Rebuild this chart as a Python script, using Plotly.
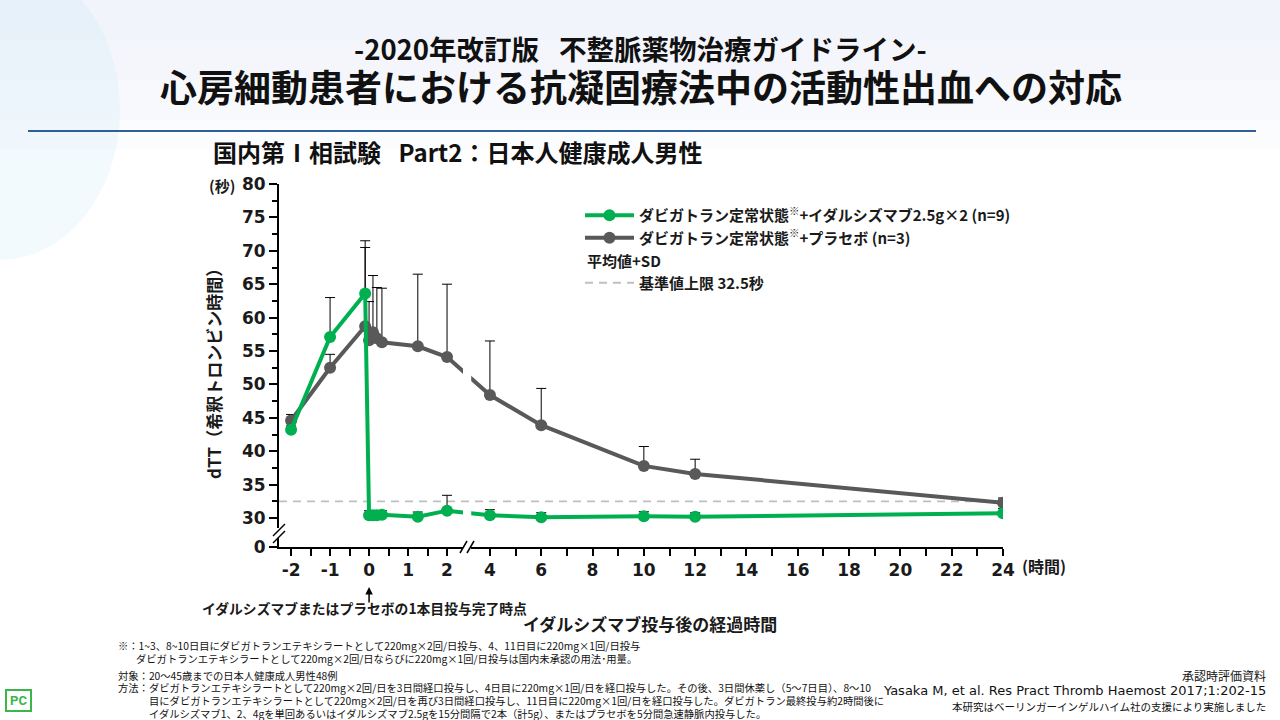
import plotly.graph_objects as go

# 測定時点（時間）: 0 = イダルシズマブ/プラセボ1本目投与完了時点
hours = [-2, -1, -0.1, 0, 0.1, 0.2, 0.33, 1.25, 2, 4, 6, 10, 12, 24]

# ダビガトラン定常状態 + イダルシズマブ 2.5g×2 (n=9)
idaru_mean = [43.2, 57.1, 63.6, 30.4, 30.4, 30.4, 30.5, 30.2, 31.1, 30.4, 30.1, 30.25, 30.2, 30.7]
idaru_sd = [0.6, 5.9, 6.9, 0.7, 0.7, 0.7, 0.6, 0.7, 2.3, 0.85, 0.7, 0.7, 0.6, 0.75]

# ダビガトラン定常状態 + プラセボ (n=3)
placebo_mean = [44.6, 52.5, 58.7, 56.6, 57.8, 56.9, 56.3, 55.7, 54.1, 48.4, 43.9, 37.8, 36.6, 32.3]
placebo_sd = [0.9, 2.0, 12.8, 5.8, 8.5, 7.6, 8.1, 10.8, 10.9, 8.1, 5.5, 2.9, 2.2, 0.7]

ref_limit = 32.5  # 基準値上限（秒）

x_tick_hours = [-2, -1, 0, 1, 2, 4, 6, 8, 10, 12, 14, 16, 18, 20, 22, 24]
x_minor_hours = [-1.5, -0.5, 0.5, 1.5] + list(range(5, 24, 2))
y_tick_vals = [30, 35, 40, 45, 50, 55, 60, 65, 70, 75, 80]
y_minor_vals = [32.5, 37.5, 42.5, 47.5, 52.5, 57.5, 62.5, 67.5, 72.5, 77.5]

GREEN = "#00B050"
GREY = "#595959"
JP = "Noto Sans CJK JP"
NUM = "DejaVu Sans"


# x軸は 2時間と4時間の間で省略（左: 1単位/時間、右: 圧縮）
def hour_to_axis(h):
    if h <= 2.5:
        return h
    return 3.1 + (h - 4) * 0.658


X_MIN = -2.31
X_MAX = hour_to_axis(24)
Y_MIN = 25.66  # 「0」の位置（y軸も30未満を省略）
Y_MAX = 80

# 図の余白（px）
L, R, T, B = 279, 277, 184, 173
W, H = 1280, 720


def px_x(px):
    return (px - L) / (W - L - R)


def px_y(py):
    return (H - B - py) / (H - T - B)


xs = [hour_to_axis(h) for h in hours]

fig = go.Figure()

fig.add_trace(go.Scatter(
    x=[X_MIN, X_MAX], y=[ref_limit, ref_limit],
    mode="lines", line=dict(color="#BFBFBF", width=1.8, dash="8px,6px"),
    name="基準値上限 32.5秒", legendrank=4, hoverinfo="skip"
))

fig.add_trace(go.Scatter(
    x=xs, y=placebo_mean,
    mode="lines+markers",
    line=dict(color=GREY, width=4),
    marker=dict(color=GREY, size=12),
    error_y=dict(type="data", array=placebo_sd, symmetric=False, arrayminus=[0] * len(hours),
                 color="black", thickness=1, width=5),
    name="ダビガトラン定常状態<sup>※</sup>+プラセボ (n=3)", legendrank=2
))

fig.add_trace(go.Scatter(
    x=xs, y=idaru_mean,
    mode="lines+markers",
    line=dict(color=GREEN, width=4),
    marker=dict(color=GREEN, size=12),
    error_y=dict(type="data", array=idaru_sd, symmetric=False, arrayminus=[0] * len(hours),
                 color="black", thickness=1, width=5),
    name="ダビガトラン定常状態<sup>※</sup>+イダルシズマブ2.5g×2 (n=9)", legendrank=1
))

# 凡例の「平均値+SD」行のための空項目
fig.add_trace(go.Scatter(
    x=[None], y=[None], mode="lines", line=dict(width=0, color="white"),
    name=" ", legendrank=3, hoverinfo="skip"
))

shapes = []
# 背景のうっすらした色（上部のグラデーション風）
for y_end in (40, 80, 120, 150):
    shapes.append(dict(type="rect", xref="paper", yref="paper", x0=px_x(0), x1=px_x(1280),
                       y0=px_y(0), y1=px_y(y_end), fillcolor="rgba(222,234,243,0.12)",
                       line=dict(width=0), layer="below"))
shapes.append(dict(type="circle", xref="paper", yref="paper", x0=px_x(-120), x1=px_x(120),
                   y0=px_y(-40), y1=px_y(260), fillcolor="rgba(190,230,245,0.18)",
                   line=dict(width=0), layer="below"))

# 省略部分で線を途切れさせる
shapes.append(dict(type="rect", xref="x", yref="y", x0=2.41, x1=2.62, y0=29.9, y1=31.9,
                   fillcolor="white", line=dict(width=0), layer="above"))
shapes.append(dict(type="rect", xref="x", yref="y", x0=2.41, x1=2.62, y0=49.0, y1=54.0,
                   fillcolor="white", line=dict(width=0), layer="above"))

# x軸の省略記号 //
shapes.append(dict(type="rect", xref="paper", yref="paper", x0=px_x(463), x1=px_x(471),
                   y0=px_y(549), y1=px_y(545), fillcolor="white", line=dict(width=0), layer="above"))
for dx in (0, 7):
    shapes.append(dict(type="line", xref="paper", yref="paper",
                       x0=px_x(460 + dx), y0=px_y(553), x1=px_x(467 + dx), y1=px_y(541),
                       line=dict(color="black", width=1.5), layer="above"))
# y軸の省略記号 //
shapes.append(dict(type="rect", xref="paper", yref="paper", x0=px_x(276), x1=px_x(282),
                   y0=px_y(538), y1=px_y(528), fillcolor="white", line=dict(width=0), layer="above"))
for dy in (0, 7):
    shapes.append(dict(type="line", xref="paper", yref="paper",
                       x0=px_x(273), y0=px_y(536 + dy), x1=px_x(285), y1=px_y(524 + dy),
                       line=dict(color="black", width=1.5), layer="above"))

# 見出し下の青線
shapes.append(dict(type="line", xref="paper", yref="paper", x0=px_x(28), x1=px_x(1256),
                   y0=px_y(131), y1=px_y(131), line=dict(color="#2F5F98", width=2)))
# PC ロゴ枠
shapes.append(dict(type="rect", xref="paper", yref="paper", x0=px_x(6), x1=px_x(31),
                   y0=px_y(711), y1=px_y(690), line=dict(color="#3CB54A", width=2),
                   fillcolor="white"))


def note(text, px, py, size=10.3, weight=400, xanchor="left", family=JP, color="#111111"):
    return dict(text=text, xref="paper", yref="paper", x=px_x(px), y=px_y(py),
                xanchor=xanchor, yanchor="middle", showarrow=False,
                font=dict(family=family, size=size, color=color, weight=weight))


annotations = [
    note("-2020年改訂版\u2002 不整脈薬物治療ガイドライン-", 640, 48, size=27.5, weight=700, xanchor="center"),
    note("心房細動患者における抗凝固療法中の活動性出血への対応", 641, 86, size=37, weight=700, xanchor="center"),
    note("国内第Ⅰ相試験\u2002 Part2：日本人健康成人男性", 211, 151, size=24, weight=700),
    note("(秒)", 207, 185, size=15, weight=700, color="#1a1a1a"),
    note("(時間)", 1020, 566, size=16, weight=700, color="#1a1a1a"),
    note("平均値+SD", 585, 260, size=15, weight=700, color="#1a1a1a"),
    note("イダルシズマブまたはプラセボの1本目投与完了時点", 364, 608, size=13.8, weight=700,
         xanchor="center", color="#1a1a1a"),
    note("イダルシズマブ投与後の経過時間", 650, 623, size=17, weight=700, xanchor="center", color="#1a1a1a"),
    note("※：1~3、8~10日目にダビガトランエテキシラートとして220mg×2回/日投与、4、11日目に220mg×1回/日投与", 116, 645),
    note("ダビガトランエテキシラートとして220mg×2回/日ならびに220mg×1回/日投与は国内未承認の用法･用量。", 134, 658),
    note("対象：20～45歳までの日本人健康成人男性48例", 116, 675),
    note("方法：ダビガトランエテキシラートとして220mg×2回/日を3日間経口投与し、4日目に220mg×1回/日を経口投与した。"
         "その後、3日間休薬し（5～7日目）、8～10", 116, 687),
    note("目にダビガトランエテキシラートとして220mg×2回/日を再び3日間経口投与し、11日目に220mg×1回/日を経口投与した。"
         "ダビガトラン最終投与約2時間後に", 147, 700),
    note("イダルシズマブ1、2、4gを単回あるいはイダルシズマブ2.5gを15分間隔で2本（計5g）、"
         "またはプラセボを5分間急速静脈内投与した。", 147, 713),
    note("承認時評価資料", 1268, 675, size=12, xanchor="right"),
    note("Yasaka M, et al. Res Pract Thromb Haemost 2017;1:202-15", 1268, 690, size=13,
         xanchor="right", family=NUM),
    note("本研究はベーリンガーインゲルハイム社の支援により実施しました", 1268, 706, size=10.5, xanchor="right"),
    note("PC", 18.5, 700.5, size=13, weight=700, xanchor="center", family="Roboto", color="#3CB54A"),
    dict(text="dTT（希釈トロンビン時間）", xref="paper", yref="paper", x=px_x(213), y=px_y(370),
         xanchor="center", yanchor="middle", textangle=-90, showarrow=False,
         font=dict(family=JP, size=17, color="#1a1a1a", weight=700)),
    # 0時点の矢印
    dict(text="", xref="x", yref="paper", x=hour_to_axis(0), y=px_y(587), ax=0, ay=17,
         showarrow=True, arrowhead=2, arrowsize=1, arrowwidth=1.5, arrowcolor="black"),
]

fig.update_layout(
    width=W, height=H,
    margin=dict(l=L, r=R, t=T, b=B),
    paper_bgcolor="white",
    plot_bgcolor="rgba(0,0,0,0)",
    showlegend=True,
    legend=dict(x=px_x(580), y=px_y(199), xanchor="left", yanchor="top",
                bgcolor="rgba(0,0,0,0)", font=dict(family=JP, size=15, color="#1a1a1a", weight=700),
                tracegroupgap=0, itemwidth=49),
    shapes=shapes,
    annotations=annotations,
    xaxis=dict(
        range=[X_MIN, X_MAX],
        tickmode="array",
        tickvals=[hour_to_axis(h) for h in x_tick_hours],
        ticktext=[str(h) for h in x_tick_hours],
        ticks="outside", ticklen=7, tickwidth=1.5, tickcolor="black",
        minor=dict(tickmode="array", tickvals=[hour_to_axis(h) for h in x_minor_hours],
                   ticks="outside", ticklen=7, tickwidth=1.5, tickcolor="black"),
        showline=True, linecolor="black", linewidth=2,
        showgrid=False, zeroline=False,
        tickfont=dict(family=NUM, size=17, color="#1a1a1a", weight=700),
    ),
    yaxis=dict(
        range=[Y_MIN, Y_MAX],
        tickmode="array",
        tickvals=[Y_MIN] + y_tick_vals,
        ticktext=["0"] + [str(v) for v in y_tick_vals],
        ticks="outside", ticklen=8, tickwidth=1.5, tickcolor="black",
        minor=dict(tickmode="array", tickvals=y_minor_vals,
                   ticks="outside", ticklen=5, tickwidth=1.5, tickcolor="black"),
        showline=True, linecolor="black", linewidth=2,
        showgrid=False, zeroline=False,
        tickfont=dict(family=NUM, size=17, color="#1a1a1a", weight=700),
    ),
)

# ページ余白をなくして 1280x720 にぴったり合わせる
fig.write_html("out.html", config={"displayModeBar": False},
               post_script="document.body.style.margin='0';")
